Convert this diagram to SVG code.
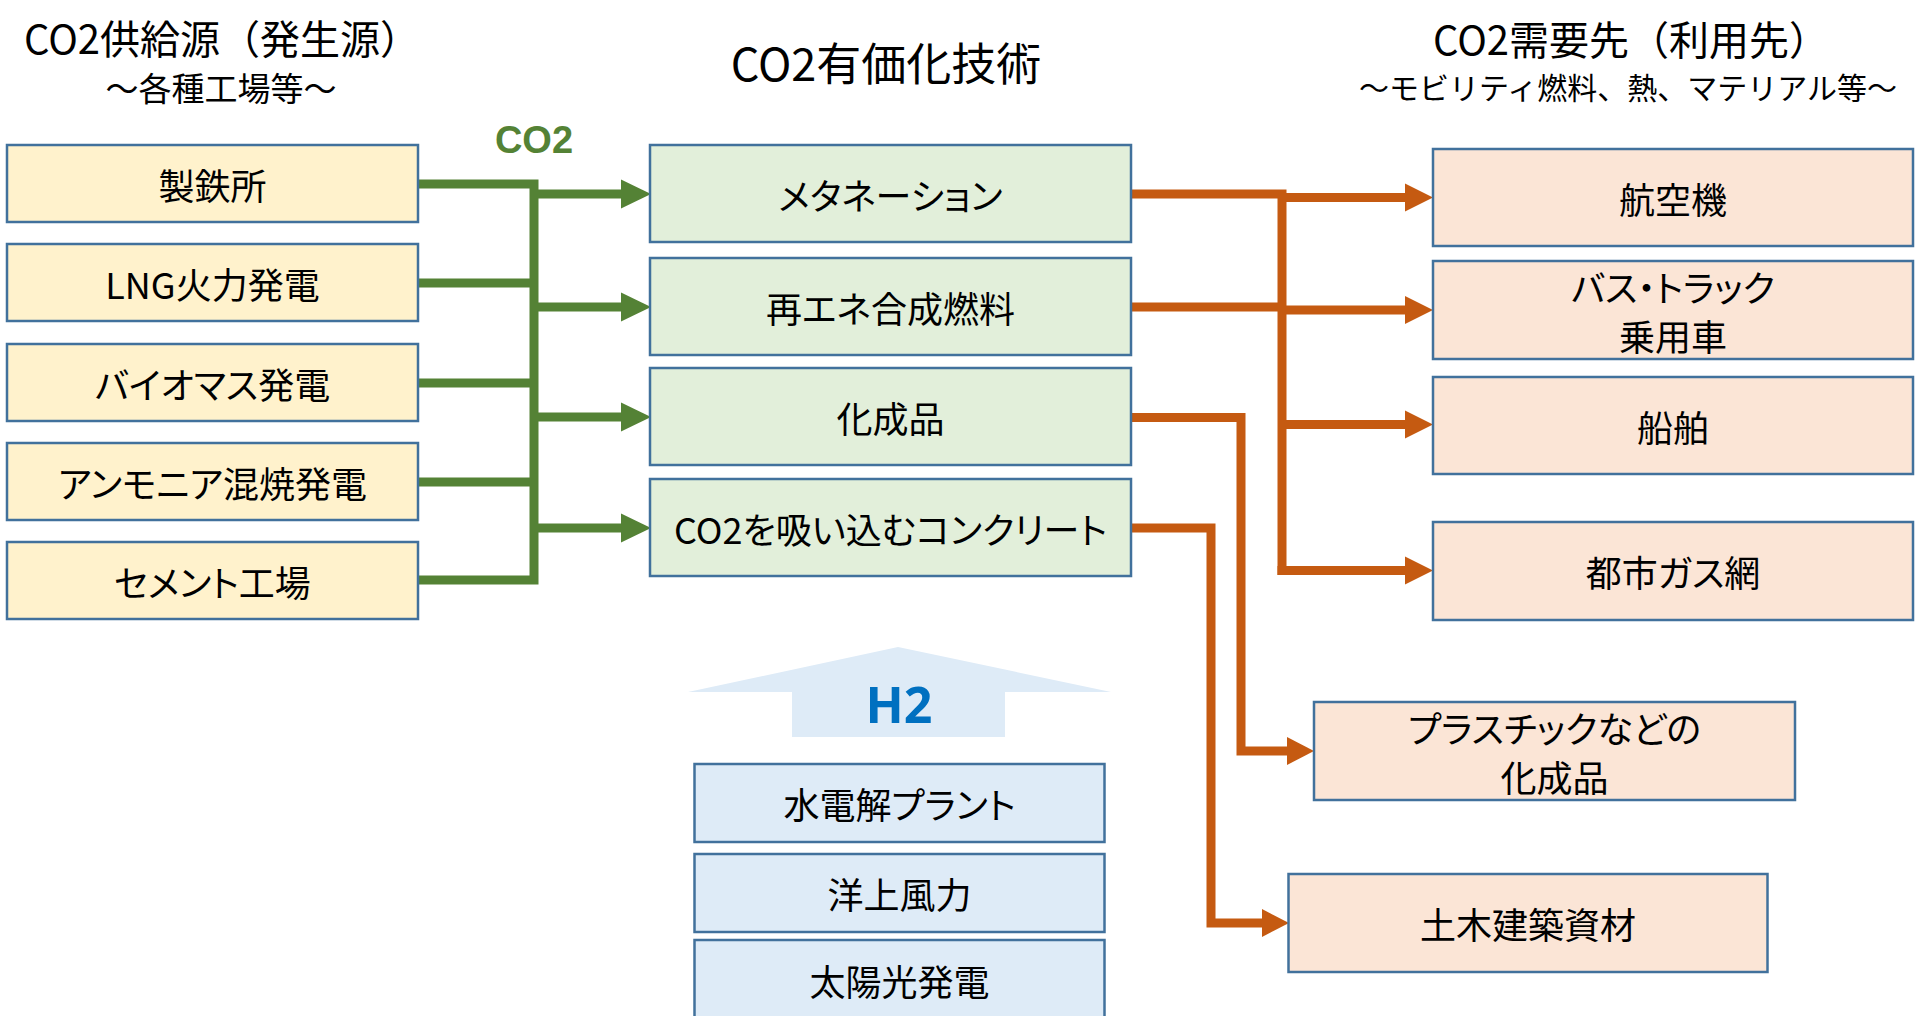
<svg xmlns="http://www.w3.org/2000/svg" width="1915" height="1016" viewBox="0 0 1915 1016">
<style>
text{font-family:"Noto Sans CJK JP","Noto Sans",sans-serif;fill:#000;text-anchor:middle;dominant-baseline:central}
.t{font-size:36px;font-feature-settings:"palt"}
.src{fill:#FFF2CC;stroke:#41719C;stroke-width:2.5}
.tech{fill:#E2EFDA;stroke:#41719C;stroke-width:2.5}
.dst{fill:#FBE5D6;stroke:#41719C;stroke-width:2.5}
.h2b{fill:#DEEBF7;stroke:#41719C;stroke-width:2.5}
.g{fill:none;stroke:#548235;stroke-width:9}
.o{fill:none;stroke:#C55A11;stroke-width:9}
.gh{fill:#548235}
.oh{fill:#C55A11}
</style>
<rect width="1915" height="1016" fill="#fff"/>
<g id="titles">
<text x="222" y="37" font-size="40">CO2供給源（発生源）</text>
<text x="221" y="87" font-size="33">～各種工場等～</text>
<text x="886" y="61" font-size="45">CO2有価化技術</text>
<text x="1631" y="38" font-size="40">CO2需要先（利用先）</text>
<text x="1628" y="86" font-size="30">～モビリティ燃料、熱、マテリアル等～</text>
</g>
<g id="connectors">
<path class="g" d="M418,184H538 M418,283H534 M418,383H534 M418,482H534 M418,580H538 M534,179.5V584.5"/>
<path class="g" d="M534,194H624 M534,307H624 M534,417H624 M534,528H624"/>
<polygon class="gh" points="621,179.5 651,194 621,208.5"/>
<polygon class="gh" points="621,292.5 651,307 621,321.5"/>
<polygon class="gh" points="621,402.5 651,417 621,431.5"/>
<polygon class="gh" points="621,513.5 651,528 621,542.5"/>
<text x="534" y="140" font-size="38" font-weight="bold" style="fill:#548235;font-family:'Liberation Sans',sans-serif">CO2</text>
<path class="o" d="M1131,194H1286.5 M1131,307H1282 M1282,189.5V575"/>
<path class="o" d="M1282,197.5H1408 M1282,310H1408 M1282,424.5H1408 M1277.5,570.5H1408"/>
<polygon class="oh" points="1405,183.5 1433,197.5 1405,211.5"/>
<polygon class="oh" points="1405,296 1433,310 1405,324"/>
<polygon class="oh" points="1405,410.5 1433,424.5 1405,438.5"/>
<polygon class="oh" points="1405,556.5 1433,570.5 1405,584.5"/>
<path class="o" d="M1131,417.5H1241V751H1290"/>
<polygon class="oh" points="1287,737 1314,751 1287,765"/>
<path class="o" d="M1131,528H1211V923H1266"/>
<polygon class="oh" points="1262,909 1289,923 1262,937"/>
</g>
<g id="src1"><rect class="src" x="7" y="145" width="411" height="77"/><text class="t" x="212.5" y="183.5">製鉄所</text></g>
<g id="src2"><rect class="src" x="7" y="244" width="411" height="77"/><text class="t" x="212.5" y="282.5">LNG火力発電</text></g>
<g id="src3"><rect class="src" x="7" y="344" width="411" height="77"/><text class="t" x="212.5" y="382.5">バイオマス発電</text></g>
<g id="src4"><rect class="src" x="7" y="443" width="411" height="77"/><text class="t" x="212.5" y="481.5">アンモニア混焼発電</text></g>
<g id="src5"><rect class="src" x="7" y="542" width="411" height="77"/><text class="t" x="212.5" y="580.5">セメント工場</text></g>
<g id="tech1"><rect class="tech" x="650" y="145" width="481" height="97"/><text class="t" x="890.5" y="193.5">メタネーション</text></g>
<g id="tech2"><rect class="tech" x="650" y="258" width="481" height="97"/><text class="t" x="890.5" y="306.5">再エネ合成燃料</text></g>
<g id="tech3"><rect class="tech" x="650" y="368" width="481" height="97"/><text class="t" x="890.5" y="416.5">化成品</text></g>
<g id="tech4"><rect class="tech" x="650" y="479" width="481" height="97"/><text class="t" x="890.5" y="527.5">CO2を吸い込むコンクリート</text></g>
<g id="dst1"><rect class="dst" x="1433" y="149" width="480" height="97"/><text class="t" x="1673" y="197.5">航空機</text></g>
<g id="dst2"><rect class="dst" x="1433" y="261" width="480" height="98"/><text class="t" x="1673" y="286">バス・トラック</text><text class="t" x="1673" y="335">乗用車</text></g>
<g id="dst3"><rect class="dst" x="1433" y="377" width="480" height="97"/><text class="t" x="1673" y="425.5">船舶</text></g>
<g id="dst4"><rect class="dst" x="1433" y="522" width="480" height="98"/><text class="t" x="1673" y="571">都市ガス網</text></g>
<g id="dst5"><rect class="dst" x="1314" y="702" width="481" height="98"/><text class="t" x="1554.5" y="727" font-size="35">プラスチックなどの</text><text class="t" x="1554.5" y="776" font-size="35">化成品</text></g>
<g id="dst6"><rect class="dst" x="1288.5" y="874" width="479" height="98"/><text class="t" x="1528" y="923">土木建築資材</text></g>
<g id="h2arrow"><polygon points="898,647 1111,692 1005,692 1005,737 792,737 792,692 688,692" fill="#DEEBF7"/><text x="899" y="704" font-size="50" font-weight="bold" style="fill:#0070C0;font-family:'Noto Sans',sans-serif">H2</text></g>
<g id="h2src1"><rect class="h2b" x="694.5" y="764" width="410" height="78"/><text class="t" x="899.5" y="803">水電解プラント</text></g>
<g id="h2src2"><rect class="h2b" x="694.5" y="854" width="410" height="78"/><text class="t" x="899.5" y="893">洋上風力</text></g>
<g id="h2src3"><rect class="h2b" x="694.5" y="940" width="410" height="80"/><text class="t" x="899.5" y="980">太陽光発電</text></g>
</svg>
